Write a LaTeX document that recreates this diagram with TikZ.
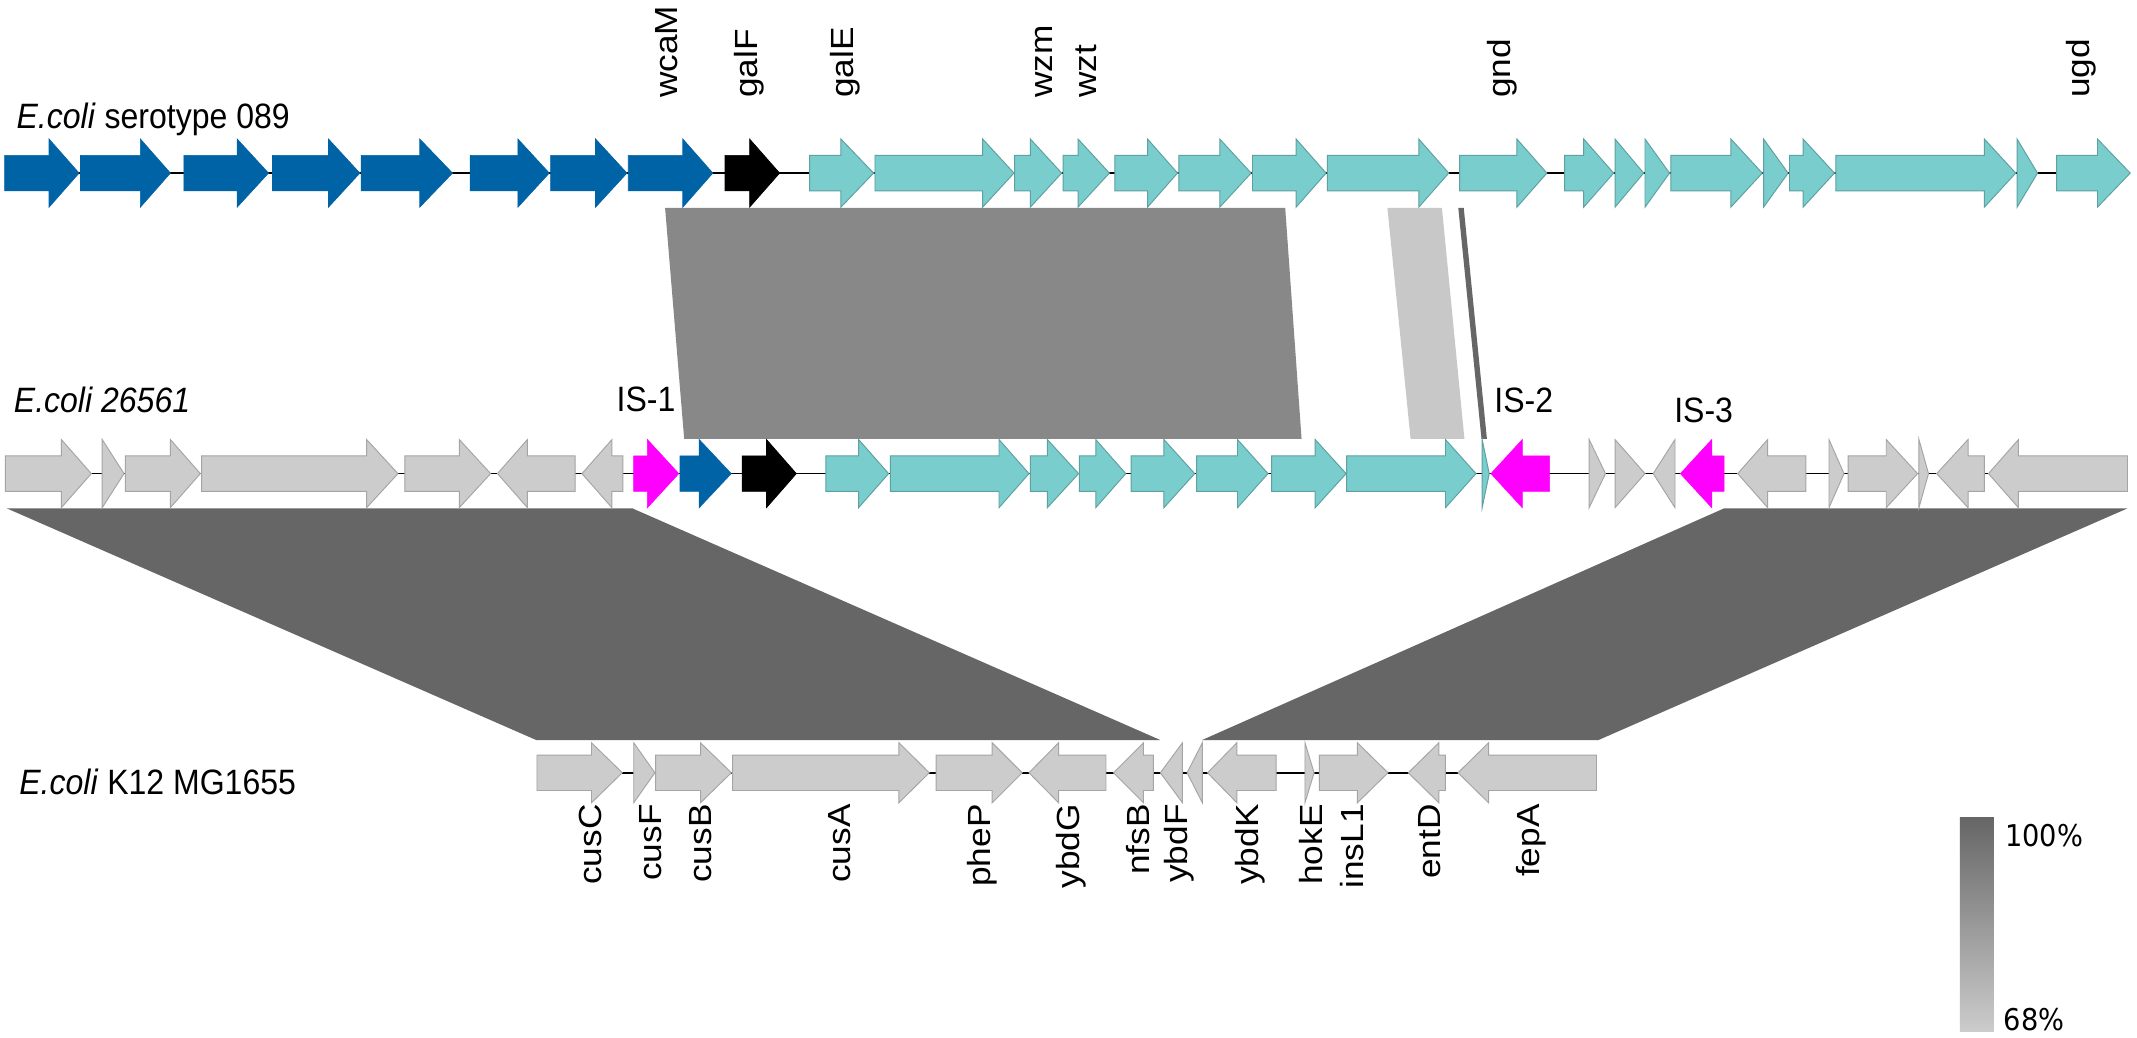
\documentclass[tikz,border=0pt]{standalone}
\usepackage{fontspec}
\usepackage{graphicx}
\setmainfont{Liberation Sans}
\newfontfamily\cbfont{DejaVu Sans}
\definecolor{genecyan}{RGB}{121,205,205}
\definecolor{cyanedge}{RGB}{95,160,160}
\definecolor{geneblue}{RGB}{0,99,166}
\definecolor{genegray}{RGB}{204,204,204}
\definecolor{grayedge}{RGB}{165,165,165}
\definecolor{linkA}{RGB}{136,136,136}
\definecolor{linkB}{RGB}{200,200,200}
\definecolor{linkC}{RGB}{102,102,102}
\definecolor{linkD}{RGB}{102,102,102}
\definecolor{ismag}{RGB}{255,0,255}
\newcommand\headh{25}
\newcommand\bodyh{13}
\newcommand\stretchf{1.1}
% forward gene: style, start, head base, tip, y
\newcommand\genef[5]{\filldraw[#1] (#2,#5-\bodyh) -- (#3,#5-\bodyh) -- (#3,#5-\headh) -- (#4,#5) -- (#3,#5+\headh) -- (#3,#5+\bodyh) -- (#2,#5+\bodyh) -- cycle;}
% reverse gene: style, tip, head base, end, y
\newcommand\gener[5]{\filldraw[#1] (#2,#5) -- (#3,#5-\headh) -- (#3,#5-\bodyh) -- (#4,#5-\bodyh) -- (#4,#5+\bodyh) -- (#3,#5+\bodyh) -- (#3,#5+\headh) -- cycle;}
\newcommand\labsize{\fontsize{23.5}{28}\selectfont}
% text stretched vertically on the page
\newcommand\htext[1]{\scalebox{1}[\stretchf]{#1}}
% rotated text stretched along its length
\newcommand\vtext[1]{\scalebox{\stretchf}[1]{#1}}
\begin{document}
\begin{tikzpicture}[x=1pt,y=-1pt,
  blueg/.style={fill=geneblue,draw=geneblue,line width=0.5pt},
  cyang/.style={fill=genecyan,draw=cyanedge,line width=0.7pt},
  grayg/.style={fill=genegray,draw=grayedge,line width=0.7pt},
  blackg/.style={fill=black,draw=black,line width=0.5pt},
  magg/.style={fill=ismag,draw=ismag,line width=0.5pt},
  backbone/.style={draw=black,line width=1.3pt},
  toplab/.style={rotate=90,anchor=west,inner sep=0pt,font=\labsize},
  botlab/.style={rotate=90,anchor=east,inner sep=0pt,font=\labsize},
  islab/.style={inner sep=0pt,font=\labsize},
  tracklab/.style={anchor=base west,inner sep=0pt,font=\labsize},
  cblab/.style={anchor=west,inner sep=0pt,font=\cbfont\fontsize{20}{24}\selectfont}]
\useasboundingbox (0,0) rectangle (1568,761);
\fill[white] (0,0) rectangle (1568,761);

% ---------- links ----------
\fill[linkA] (488,152.6) -- (943,152.6) -- (955,322) -- (502,322) -- cycle;
\fill[linkB] (1018,152.6) -- (1058,152.6) -- (1074.5,322) -- (1035,322) -- cycle;
\fill[linkC] (1070,152.6) -- (1074,152.6) -- (1091,322) -- (1087,322) -- cycle;
\fill[linkD] (5,373) -- (464,373) -- (851.4,543) -- (393.5,543) -- cycle;
\fill[linkD] (1265,373) -- (1561,373) -- (1172.8,543) -- (882,543) -- cycle;

% ---------- track 1 : E.coli serotype 089 ----------
\node[tracklab] (t1) at (12,94) {\htext{\textit{E.coli} serotype 089}};
\draw[backbone] (4,127) -- (1562,127);
\genef{blueg}{3.4}{36}{58}{127}
\genef{blueg}{59}{103}{125}{127}
\genef{blueg}{135}{174}{197}{127}
\genef{blueg}{200}{241}{264}{127}
\genef{blueg}{265}{308}{332}{127}
\genef{blueg}{345}{380}{403}{127}
\genef{blueg}{404}{437}{460}{127}
\genef{blueg}{461}{501}{523}{127}
\genef{blackg}{532}{550}{572}{127}
\genef{cyang}{594}{617}{641}{127}
\genef{cyang}{642}{721}{744}{127}
\genef{cyang}{744.5}{756}{779}{127}
\genef{cyang}{780}{791}{814}{127}
\genef{cyang}{818}{842}{864}{127}
\genef{cyang}{865}{895}{918}{127}
\genef{cyang}{919}{951}{973}{127}
\genef{cyang}{974}{1041}{1063}{127}
\genef{cyang}{1071}{1113}{1135}{127}
\genef{cyang}{1148}{1162}{1184}{127}
\genef{cyang}{1185}{1185}{1206}{127}
\genef{cyang}{1207}{1207}{1225}{127}
\genef{cyang}{1226}{1270}{1293}{127}
\genef{cyang}{1294}{1294}{1312}{127}
\genef{cyang}{1313}{1323}{1346}{127}
\genef{cyang}{1347}{1456}{1479}{127}
\genef{cyang}{1480}{1480}{1495}{127}
\genef{cyang}{1509}{1539}{1563}{127}
\node[toplab] (wcaM) at (489,72) {\vtext{wcaM}};
\node[toplab] (galF) at (550,72) {\vtext{galF}};
\node[toplab] (galE) at (620,72) {\vtext{galE}};
\node[toplab] (wzm) at (766,72) {\vtext{wzm}};
\node[toplab] (wzt) at (797,72) {\vtext{wzt}};
\node[toplab] (gnd) at (1102,72) {\vtext{gnd}};
\node[toplab] (ugd) at (1527,72) {\vtext{ugd}};

% ---------- track 2 : E.coli 26561 ----------
\node[tracklab] (t2) at (10,303) {\htext{\textit{E.coli 26561}}};
\draw[backbone] (5,347.5) -- (1560,347.5);
\genef{grayg}{4}{45}{67}{347.5}
\genef{grayg}{75}{75}{91}{347.5}
\genef{grayg}{92}{125}{147}{347.5}
\genef{grayg}{148}{269}{292}{347.5}
\genef{grayg}{297}{337}{360}{347.5}
\gener{grayg}{365}{387}{422}{347.5}
\gener{grayg}{427}{449}{457}{347.5}
\genef{magg}{465}{475}{498}{347.5}
\genef{blueg}{499}{513}{536.5}{347.5}
\genef{blackg}{544.6}{562.4}{584.3}{347.5}
\genef{cyang}{606}{630}{652}{347.5}
\genef{cyang}{653.3}{733}{755}{347.5}
\genef{cyang}{756}{768.5}{791.4}{347.5}
\genef{cyang}{792}{804}{826}{347.5}
\genef{cyang}{830}{854}{876.6}{347.5}
\genef{cyang}{878}{908}{930.4}{347.5}
\genef{cyang}{933}{965}{987.7}{347.5}
\genef{cyang}{988}{1060.6}{1083}{347.5}
\genef{cyang}{1087.5}{1087.5}{1092.7}{347.5}
\gener{magg}{1094}{1117}{1137}{347.5}
\genef{grayg}{1166}{1166}{1178}{347.5}
\genef{grayg}{1185}{1185}{1207}{347.5}
\gener{grayg}{1213}{1229}{1229}{347.5}
\gener{magg}{1233}{1256}{1265}{347.5}
\gener{grayg}{1275}{1297}{1325}{347.5}
\genef{grayg}{1342}{1342}{1353}{347.5}
\genef{grayg}{1356}{1384}{1407}{347.5}
\genef{grayg}{1408}{1408}{1415}{347.5}
\gener{grayg}{1421}{1444}{1456}{347.5}
\gener{grayg}{1459}{1481}{1561}{347.5}
\node[islab] (is1) at (474,293) {\htext{IS-1}};
\node[islab] (is2) at (1118,294) {\htext{IS-2}};
\node[islab] (is3) at (1250,301) {\htext{IS-3}};

% ---------- track 3 : E.coli K12 MG1655 ----------
\renewcommand\headh{22}
\node[tracklab] (t3) at (14,583) {\htext{\textit{E.coli} K12 MG1655}};
\draw[backbone] (395,567) -- (1170,567);
\genef{grayg}{394}{434}{456.6}{567}
\genef{grayg}{465}{465}{480.5}{567}
\genef{grayg}{481}{514}{536.6}{567}
\genef{grayg}{537.5}{659.6}{681.8}{567}
\genef{grayg}{686.8}{728}{750}{567}
\gener{grayg}{755}{776.7}{811.5}{567}
\gener{grayg}{817}{839}{846.3}{567}
\gener{grayg}{851.4}{867.6}{867.6}{567}
\gener{grayg}{871}{882.2}{882.2}{567}
\gener{grayg}{886}{907.5}{936.4}{567}
\genef{grayg}{957.5}{957.5}{964.2}{567}
\genef{grayg}{968}{996}{1018.4}{567}
\gener{grayg}{1033.3}{1055.7}{1060.5}{567}
\gener{grayg}{1069.8}{1092.2}{1171.4}{567}
\node[botlab] (cusC) at (433.6,590) {\vtext{cusC}};
\node[botlab] (cusF) at (477.7,590) {\vtext{cusF}};
\node[botlab] (cusB) at (514.2,590) {\vtext{cusB}};
\node[botlab] (cusA) at (615.8,590) {\vtext{cusA}};
\node[botlab] (pheP) at (720.5,590) {\vtext{pheP}};
\node[botlab] (ybdG) at (785.7,590) {\vtext{ybdG}};
\node[botlab] (nfsB) at (835,590) {\vtext{nfsB}};
\node[botlab] (ybdF) at (865,590) {\vtext{ybdF}};
\node[botlab] (ybdK) at (917.3,590) {\vtext{ybdK}};
\node[botlab] (hokE) at (962.2,590) {\vtext{hokE}};
\node[botlab] (insL1) at (992,590) {\vtext{insL1}};
\node[botlab] (entD) at (1049.3,590) {\vtext{entD}};
\node[botlab] (fepA) at (1123.7,590) {\vtext{fepA}};

% ---------- colour scale ----------
\shade[top color=linkC,bottom color=genegray] (1438,600) rectangle (1463,757);
\node[cblab] (c100) at (1471,613) {\htext{100\%}};
\node[cblab] (c68) at (1470,748) {\htext{68\%}};
\end{tikzpicture}
\end{document}
